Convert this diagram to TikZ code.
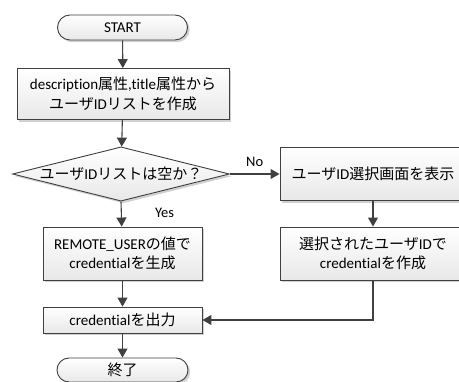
\documentclass[tikz,border=0pt]{standalone}
\usepackage{fontspec}
\setmainfont{Carlito}[Ligatures={NoCommon}]
\newfontfamily\jp{Noto Sans CJK JP}
\newcommand\J[1]{{\jp #1}}
\usetikzlibrary{shapes.geometric,shapes.misc,arrows.meta,shadows}
\definecolor{edge}{HTML}{404040}
\tikzset{
  x=1pt,y=-1pt,
  every node/.style={font=\fontsize{15}{19.5}\selectfont,text=black},
  boxbase/.style={draw=edge,line width=0.9pt,top color=white,bottom color=black!9,
    drop shadow={shadow xshift=2.2pt,shadow yshift=-2.2pt,fill=black,opacity=0.18},
    align=center,inner sep=0pt},
  procbox/.style={boxbase,rectangle},
  termbox/.style={boxbase,rounded rectangle},
  decbox/.style={boxbase,diamond,aspect=4},
  conn/.style={draw=edge,line width=1.1pt,-{Triangle[length=9pt,width=10pt]}},
  lbl/.style={font=\fontsize{14.5}{16}\selectfont}
}
\begin{document}
\begin{tikzpicture}
\useasboundingbox (0,0) rectangle (459,382);
\begin{scope}
\clip (0,0) rectangle (459,382);
\node[termbox,minimum width=130pt,minimum height=25pt] (start) at (122.5,27.5) {START};
\node[procbox,minimum width=212pt,minimum height=51pt] (b1) at (123,94) {description\J{属性},title\J{属性から}\\\J{ユーザ}ID\J{リストを作成}};
\node[decbox,minimum width=212pt,minimum height=52pt] (dia) at (121,174) {\J{ユーザ}ID\J{リストは空か？}};
\node[procbox,minimum width=159pt,minimum height=53pt] (b2) at (122.5,253.5) {REMOTE\_USER\J{の値で}\\credential\J{を生成}};
\node[procbox,minimum width=159pt,minimum height=26pt] (b3) at (122.5,320) {credential\J{を出力}};
\node[termbox,minimum width=131pt,minimum height=24pt] (end) at (122.5,370) {\J{終了}};
\node[procbox,minimum width=186pt,minimum height=53pt] (r1) at (373,174) {\J{ユーザ}ID\J{選択画面を表示}};
\node[procbox,minimum width=186pt,minimum height=53pt] (r2) at (373,253.5) {\J{選択されたユーザ}ID\J{で}\\credential\J{を作成}};

\draw[conn] (start) -- (b1);
\draw[conn] (b1) -- (dia);
\draw[conn] (dia.south) -- node[lbl,right=30pt,pos=0.45] (yes) {Yes} (b2);
\draw[conn] (b2) -- (b3);
\draw[conn] (b3) -- (end);
\draw[conn] (dia.east) -- node[lbl,above=4pt,pos=0.5] (no) {No} (r1);
\draw[conn] (r1) -- (r2);
\draw[conn] (r2.south) |- (b3.east);
\end{scope}
\end{tikzpicture}
\end{document}
